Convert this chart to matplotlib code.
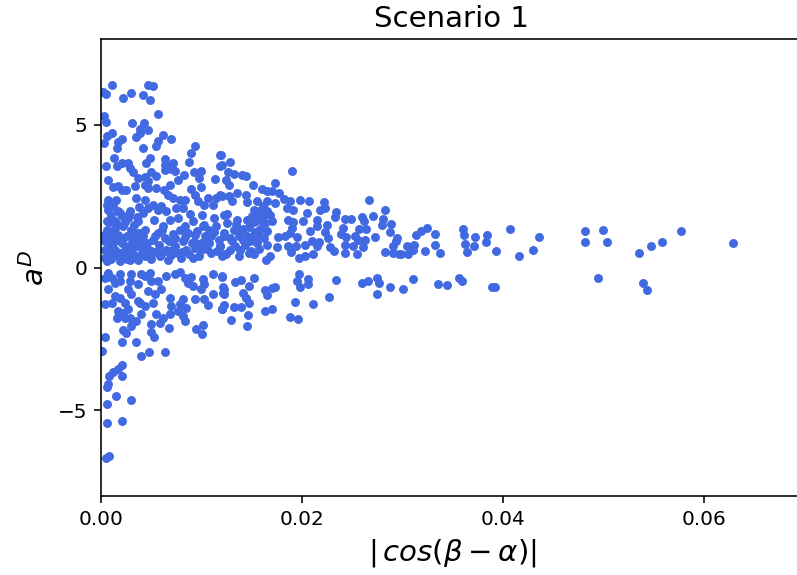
import matplotlib
matplotlib.use('Agg')
import matplotlib.pyplot as plt

# upper branch from left to right
x_top = [.0011,.0002,.0005,.0022,.0030,.0042,.0047,.0052,.0049,.0057,.0003,.0005,.0031,.0043,.0039,.0047,.0039,.0035,.0011,.0006,.0003,.0062,.0070,.0057,.0055,.0021,.0017,.0016,.0042,.0094,.0090,.0118,.0013,.0049,.0045,.0064,.0088,.0118,.0005,.0016,.0021,.0027,.0029,.0032,.0064,.0072,.0064,.0070,.0074,.0100,.0093,.0098,.0114,.0083,.0077,.0069,.0007,.0037,.0044,.0050,.0055,.0047,.0044,.0034,.0047,.0012,.0017,.0021,.0025,.0100]
y_top = [6.40,6.16,6.07,5.93,6.10,6.05,6.40,6.37,5.85,5.38,5.29,5.11,5.06,5.06,4.85,4.80,4.71,4.57,4.71,4.62,4.36,4.65,4.50,4.44,4.24,4.50,4.38,4.20,4.18,4.24,4.01,3.95,3.85,3.85,3.66,3.81,3.68,3.57,3.56,3.56,3.66,3.66,3.48,3.33,3.60,3.66,3.42,3.46,3.37,3.39,3.33,3.13,3.11,3.25,3.07,2.90,3.05,3.13,3.17,3.34,3.21,3.02,2.90,2.84,2.78,2.82,2.86,2.70,2.70,2.82]

x_upper = [.0090,.0094,.0097,.0103,.0055,.0063,.0067,.0072,.0079,.0084,.0107,.0115,.0120,.0035,.0044,.0007,.0015,.0006,.0012,.0007,.0017,.0038,.0052,.0060,.0042,.0047,.0057,.0065,.0075,.0082,.0089,.0101,.0113,.0103,.0112,.0122,.0053,.0062,.0069,.0077,.0092,.0084,.0029,.0037,.0021,.0014,.0006,.0027]
y_upper = [2.75,2.55,2.32,2.20,2.78,2.70,2.55,2.43,2.37,2.35,2.43,2.43,2.51,2.43,2.35,2.37,2.37,2.20,2.14,2.02,1.97,2.11,2.20,2.16,1.91,2.08,2.02,1.97,2.08,2.08,1.88,1.85,1.73,1.50,2.20,1.85,1.65,1.44,1.68,1.73,1.62,1.47,1.97,1.62,1.79,1.62,1.62,1.73]

x_dense = [.0006,.0014,.0022,.0030,.0037,.0044,.0009,.0017,.0026,.0034,.0042,.0052,.0004,.0012,.0021,.0029,.0037,.0044,.0004,.0011,.0019,.0027,.0035,.0004,.0011,.0019,.0029,.0037,.0044,.0050,.0006,.0057,.0064,.0074,.0082,.0074,.0065,.0062,.0067,.0077,.0085,.0094,.0102,.0108,.0110,.0100,.0108,.0094,.0092,.0100,.0110,.0118,.0122,.0115,.0120,.0015,.0024,.0008,.0032,.0048,.0058,.0070,.0088,.0105,.0117,.0012,.0003,.0026,.0040,.0055,.0080,.0098]
y_dense = [1.33,1.38,1.44,1.33,1.21,1.33,1.09,1.15,1.09,.98,1.09,.98,.92,.86,.86,.80,.74,.74,.63,.57,.51,.51,.39,.33,.39,.22,.28,.28,.42,.30,.22,1.21,1.03,1.03,.92,.74,.63,.53,.28,.51,.63,1.15,1.44,1.33,1.09,.86,.86,.68,.33,.63,.51,.74,1.09,1.44,.39,.95,.62,.70,.68,.62,.80,.45,.48,.80,.95,.45,1.15,.30,.90,.55,.32,.40]

# points that fill the solid core of the cloud
x_core = [.0008,.0016,.0024,.0033,.0010,.0019,.0028,.0036,.0006,.0014,.0023,.0032,.0041,.0050,.0007,.0018,.0026,.0034,.0046,.0054,.0061,.0072,.0079,.0087,.0096,.0104,.0113,.0068,.0084,.0091,.0106,.0116,.0124,.0130,.0138,.0143,.0149,.0155,.0158,.0162,.0134,.0141,.0147,.0153,.0160,.0128,.0137,.0012,.0022,.0031,.0040,.0010,.0020,.0050,.0059,.0071,.0081,.0093]
y_core = [1.60,1.52,1.58,1.50,1.85,1.92,1.86,1.78,.55,.60,.48,.42,.52,.58,.42,.40,.72,.88,.85,1.10,1.30,1.18,1.30,1.22,1.28,1.12,1.25,.92,1.08,.85,.65,.58,.48,.92,.62,.78,.58,.85,1.35,1.05,1.52,1.36,1.42,1.25,1.62,.62,1.12,1.25,1.02,1.05,1.22,.30,.30,.48,.42,.60,.55,.88]

x_mid = [.0190,.0173,.0151,.0160,.0165,.0170,.0177,.0182,.0188,.0198,.0207,.0222,.0267,.0283,.0234,.0223,.0218,.0205,.0191,.0185,.0271,.0260,.0262,.0249,.0243,.0233,.0281,.0280,.0289,.0288,.0273,.0264,.0257,.0241,.0225,.0215,.0201,.0186,.0191,.0215,.0208,.0223,.0226,.0239,.0244,.0253,.0263,.0256,.0243,.0251,.0261,.0291,.0294,.0283,.0291,.0297,.0255,.0243,.0232,.0228,.0217,.0215,.0210,.0203,.0194,.0186,.0189,.0197,.0203,.0211,.0183,.0176,.0188,.0195,.0190,.0165,.0175,.0165,.0168,.0164,.0157,.0152,.0147,.0137,.0133]
y_mid = [3.37,2.96,2.88,2.75,2.69,2.67,2.61,2.40,2.32,2.38,2.34,2.30,2.35,2.00,1.95,2.09,2.00,1.91,2.00,2.09,1.80,1.77,1.64,1.70,1.71,1.77,1.70,1.48,1.54,1.25,1.06,1.35,1.36,1.39,1.50,1.68,1.64,1.66,1.59,1.47,1.27,1.24,1.04,1.16,1.06,1.10,.96,.98,.80,.75,.72,.75,.92,.55,.51,.49,.49,.51,.57,.72,.90,.75,.92,.78,.75,.77,.54,.34,.42,.48,1.10,1.07,1.21,1.06,1.39,1.27,.71,.80,.40,.26,.65,.46,.51,.40,.75]

x_mid2 = [.0161,.0157,.0152,.0155,.0165,.0173,.0161,.0168,.0155,.0163,.0170,.0158,.0165,.0150,.0145,.0135,.0144,.0127,.0118,.0130,.0128,.0120,.0119,.0126,.0132,.0140,.0144,.0124,.0127,.0125,.0135,.0145,.0152,.0125,.0132,.0138,.0145,.0152,.0157,.0122,.0128,.0141,.0148,.0118,.0122]
y_mid2 = [2.15,1.97,2.03,2.32,2.34,2.26,1.80,1.85,1.68,1.56,1.62,1.85,1.97,1.80,2.29,2.61,2.55,2.49,2.55,2.32,3.69,3.60,3.95,3.35,3.28,3.23,3.19,3.08,2.88,1.89,1.68,1.68,1.59,1.56,1.33,1.33,1.10,1.10,1.15,1.21,1.04,.98,.92,.75,.46]

x_right = [.0325,.0333,.0319,.0314,.0295,.0305,.0312,.0311,.0299,.0306,.0323,.0333,.0338,.0360,.0361,.0362,.0364,.0372,.0371,.0384,.0383,.0393,.0407,.0416,.0430,.0436,.0482,.0482,.0500,.0504,.0536,.0548,.0559,.0578,.0629]
y_right = [1.39,1.19,1.27,1.15,1.04,.75,.80,.63,.49,.49,.57,.80,.51,1.36,1.15,.83,.54,1.07,.75,1.15,.91,.57,1.35,.42,.62,1.06,1.27,.90,1.33,.90,.51,.76,.90,1.27,.86]

# lower branch
x_neg = [.0007,.0004,.0011,.0019,.0030,.0040,.0049,.0065,.0074,.0079,.0090,.0102,.0112,.0120,.0019,.0014,.0029,.0037,.0044,.0050,.0057,.0084,.0087,.0103,.0092,.0100,.0007,.0027,.0030,.0037,.0047,.0060,.0054,.0069,.0094,.0112,.0122,.0122,.0103,.0107,.0120,.0004,.0011,.0014,.0019,.0024,.0027,.0017,.0022,.0016,.0024,.0029,.0039,.0044,.0052,.0070,.0082,.0079,.0085,.0040,.0035,.0030,.0069,.0062,.0055,.0059,.0050,.0077,.0082,.0084,.0022,.0025,.0050,.0053,.0068,.0095,.0102,.0101]
y_neg = [-.19,-.36,-.36,-.24,-.22,-.24,-.19,-.30,-.22,-.15,-.34,-.42,-.24,-.30,-.48,-.54,-.48,-.59,-.30,-.48,-.48,-.38,-.54,-.59,-.65,-.77,-.77,-.77,-.94,-1.18,-.83,-.77,-.94,-1.06,-1.12,-.94,-.77,-.94,-1.12,-1.32,-1.47,-1.29,-1.24,-1.00,-1.06,-1.24,-1.47,-1.53,-1.58,-1.76,-1.76,-1.76,-1.24,-1.35,-1.24,-1.35,-1.12,-1.29,-1.43,-1.64,-1.88,-2.05,-1.64,-1.76,-1.64,-1.94,-1.97,-1.53,-1.70,-1.88,-2.20,-2.28,-2.26,-2.44,-2.13,-2.14,-2.02,-2.32]

x_neg_low = [.0004,.0021,.0035,.0001,.0040,.0048,.0064,.0021,.0017,.0012,.0008,.0021,.0007,.0006,.0015,.0030,.0006,.0006,.0021,.0008,.0005]
y_neg_low = [-2.42,-2.60,-2.61,-2.92,-3.10,-2.97,-2.96,-3.43,-3.54,-3.65,-3.80,-3.80,-4.09,-4.18,-4.51,-4.65,-4.77,-5.43,-5.37,-6.61,-6.66]

x_neg_mid = [.0197,.0234,.0206,.0206,.0195,.0198,.0260,.0266,.0275,.0277,.0288,.0275,.0227,.0211,.0193,.0188,.0196,.0170,.0163,.0173,.0170,.0163,.0165,.0152,.0147,.0139,.0133,.0120,.0121,.0121,.0141,.0144,.0147,.0139,.0132,.0122,.0120,.0146,.0129,.0145]
y_neg_mid = [-.22,-.43,-.40,-.57,-.48,-.69,-.54,-.47,-.38,-.54,-.68,-.93,-1.05,-1.28,-1.20,-1.74,-1.79,-1.47,-1.54,-.70,-.73,-.79,-.97,-.38,-.65,-.45,-.50,-.33,-.67,-.91,-.91,-1.06,-1.23,-1.37,-1.40,-1.32,-1.47,-1.67,-1.83,-2.05]

x_neg_right = [.0301,.0311,.0336,.0345,.0356,.0359,.0389,.0392,.0495,.0540,.0544]
y_neg_right = [-.76,-.40,-.57,-.60,-.38,-.48,-.67,-.69,-.37,-.54,-.78]

xs = x_top + x_upper + x_dense + x_core + x_mid + x_mid2 + x_right + x_neg + x_neg_low + x_neg_mid + x_neg_right
ys = y_top + y_upper + y_dense + y_core + y_mid + y_mid2 + y_right + y_neg + y_neg_low + y_neg_mid + y_neg_right

fig = plt.figure(figsize=(797 / 144, 575 / 144), dpi=144)
# the axes run past the right edge of the canvas, the picture is cropped there
ax = fig.add_axes([101 / 797, 1 - 496 / 575, 702 / 797, 457 / 575])
ax.scatter(xs, ys, s=12, color='royalblue')
ax.set_xlim(0, 0.0699)
ax.set_ylim(-8, 8)
ax.set_xticks([0, 0.02, 0.04, 0.06])
ax.set_yticks([-5, 0, 5])
ax.set_title('Scenario 1', fontsize=14.6)
ax.set_xlabel(r'$|\,cos(\beta-\alpha)|$', fontsize=14.6)
ax.set_ylabel(r'$a^D$', fontsize=14.6)
fig.savefig('out.png', dpi=144)
